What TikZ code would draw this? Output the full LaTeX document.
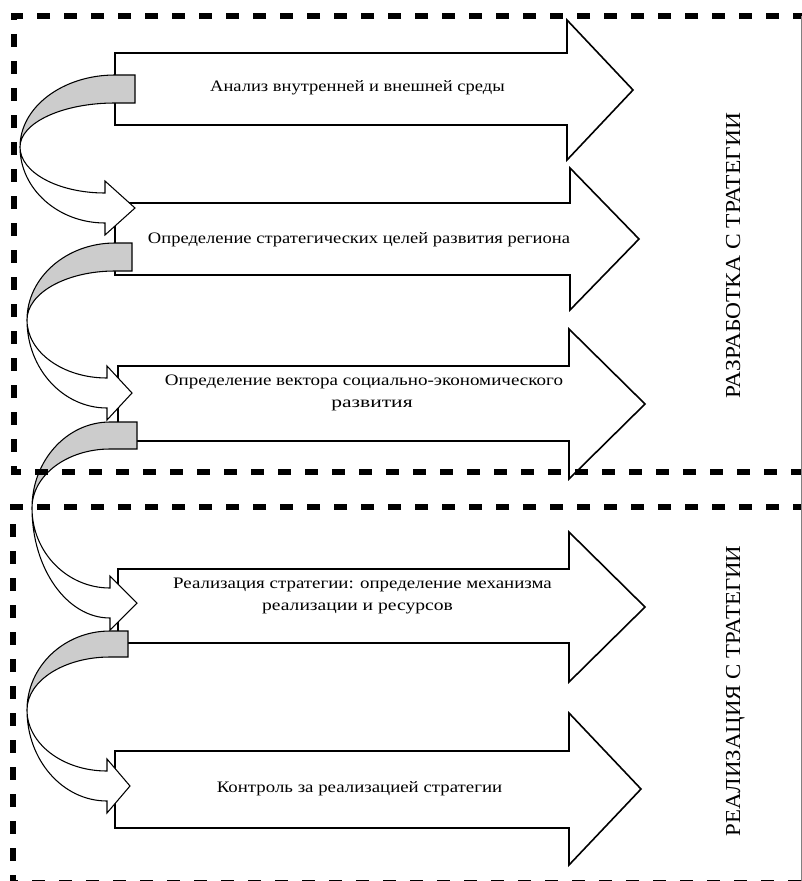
\documentclass[tikz,border=0pt]{standalone}
\usepackage{fontspec}
\setmainfont{Liberation Serif}
\usepackage{graphicx}
\newcommand\sw[2]{\resizebox{#1}{\height}{#2}}
\tikzset{
  blockarrow/.style={draw=black, line width=1.2pt, fill=white, line join=miter},
  backface/.style={draw=black, line width=0.8pt, fill=gray!40},
  frontface/.style={draw=black, line width=0.8pt, fill=white},
  phasebox/.style={draw=black, line width=4pt, dash pattern=on 9.75pt off 10.5pt},
  txt/.style={inner sep=0pt, anchor=base, font=\fontsize{12}{14}\selectfont},
  vtxt/.style={inner sep=0pt, anchor=base, rotate=90, font=\fontsize{16}{19}\selectfont}
}
% block arrow: left, top, bottom, shaft end, head top, head bottom, tip x
\newcommand\blkarr[7]{%
  \draw[blockarrow] (#1,#2) -- (#4,#2) -- (#4,#5) -- (#7,{(#5+#6)/2}) -- (#4,#6) -- (#4,#3) -- (#1,#3) -- cycle;}
% curved arrow: xa, xb, ya, yb, xl, ym, xn, xt, yt
\newcommand\curvarr[9]{%
  \pgfmathsetmacro\qqNa{#9-15}%
  \pgfmathsetmacro\qqNb{#9+15}%
  \pgfmathsetmacro\qqHa{#9-27}%
  \pgfmathsetmacro\qqHb{#9+27}%
  \pgfmathsetmacro\qqXa{#1-0.552*(#1-#5)}%
  \pgfmathsetmacro\qqXn{#7-0.552*(#7-#5)}%
  \pgfmathsetmacro\qqYt{#6-0.552*(#6-#3)}%
  \pgfmathsetmacro\qqYb{#6-0.552*(#6-#4)}%
  \pgfmathsetmacro\qqYna{#6+0.552*(\qqNa-#6)}%
  \pgfmathsetmacro\qqYnb{#6+0.552*(\qqNb-#6)}%
  \draw[backface] (#2,#3) -- (#2,#4) -- (#1,#4) .. controls (\qqXa,#4) and (#5,\qqYb) .. (#5,#6) .. controls (#5,\qqYt) and (\qqXa,#3) .. (#1,#3) -- cycle;
  \draw[frontface] (#5,#6) .. controls (#5,\qqYna) and (\qqXn,\qqNa) .. (#7,\qqNa) -- (#7,\qqHa) -- (#8,#9) -- (#7,\qqHb) -- (#7,\qqNb) .. controls (\qqXn,\qqNb) and (#5,\qqYnb) .. (#5,#6) -- cycle;
}
\begin{document}
\begin{tikzpicture}[x=0.75pt,y=-0.75pt]
\useasboundingbox (0,0) rectangle (802,881);
\fill[white] (0,0) rectangle (802,881);
% block arrows
\blkarr{115}{53}{125}{567}{20}{160}{633}
\blkarr{115}{203}{275}{570}{168}{310}{639}
\blkarr{118}{366}{441}{569}{329}{479}{645}
\blkarr{118}{569}{643}{569}{532}{682}{645}
\blkarr{115}{751}{828}{569}{713}{865}{641}
% curved connecting arrows
\curvarr{115}{135}{75}{103}{20}{147}{105}{135}{208}
\curvarr{115}{132}{243}{271}{27}{320}{107}{132}{393}
\curvarr{110}{137}{422}{449}{32}{508}{110}{137}{603}
\curvarr{110}{128}{631}{657}{27}{710}{107}{130}{786}
% texts
\node[txt] (t1) at (357.5,92) {\sw{221pt}{Анализ внутренней и внешней среды}};
\node[txt] (t2) at (359,243) {\sw{316.5pt}{Определение стратегических целей развития региона}};
\node[txt] (t3a) at (364,385) {\sw{298.5pt}{Определение вектора социально-экономического}};
\node[txt] (t3b) at (372,407) {\sw{61pt}{развития}};
\node[txt] (t4a) at (362.5,588) {\sw{284pt}{Реализация стратегии: определение механизма}};
\node[txt] (t4b) at (357.5,610) {\sw{143pt}{реализации и ресурсов}};
\node[txt] (t5) at (359.5,792) {\sw{214pt}{Контроль за реализацией стратегии}};
\node[vtxt] (v1) at (740,255.5) {\sw{214pt}{РАЗРАБОТКА С ТРАТЕГИИ}};
\node[vtxt] (v2) at (740,691) {\sw{218pt}{РЕАЛИЗАЦИЯ С ТРАТЕГИИ}};
% phase boxes
\draw[phasebox] (806,16) -- (14,16) -- (14,472) -- (806,472);
\draw[phasebox] (806,507) -- (13,507) -- (13,883) -- (806,883);
\draw[gray, line width=0.75pt] (801.5,16) -- (801.5,881);
\end{tikzpicture}
\end{document}
